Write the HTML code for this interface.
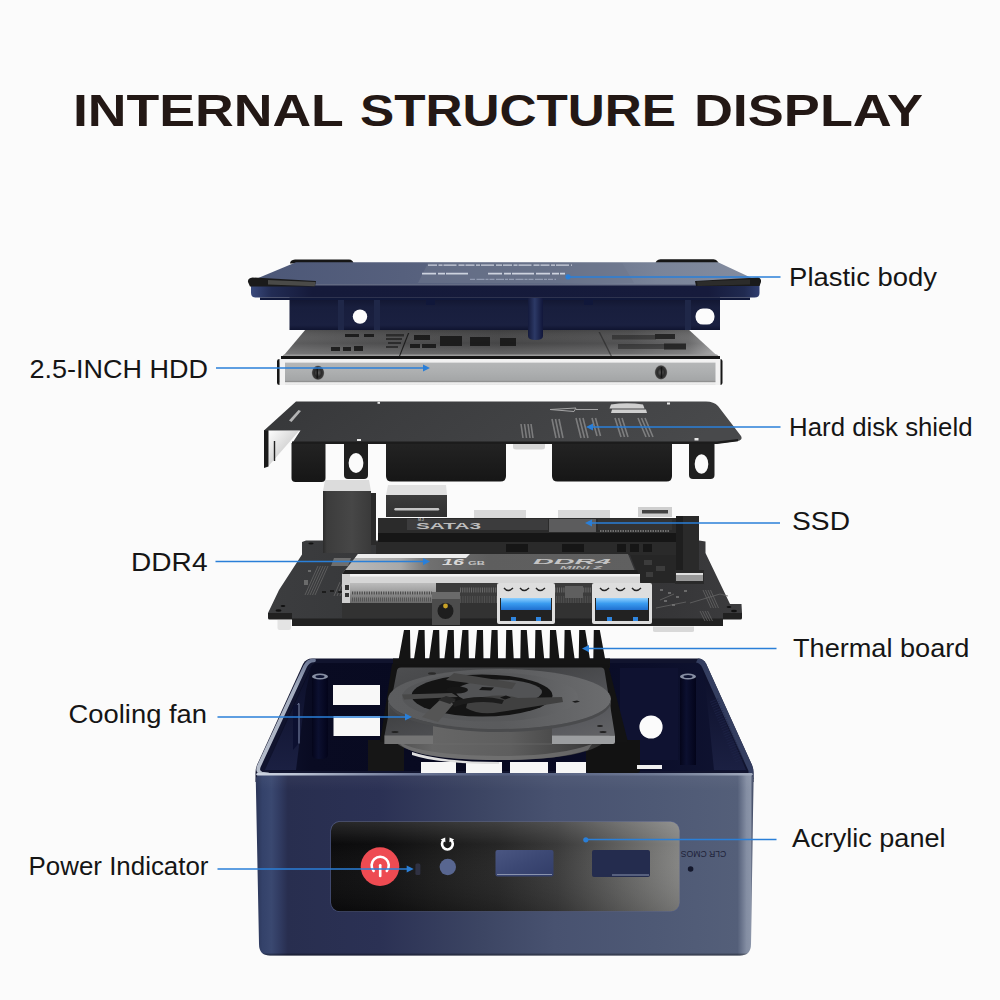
<!DOCTYPE html>
<html lang="en">
<head>
<meta charset="utf-8">
<title>Internal Structure Display</title>
<style>
html,body{margin:0;padding:0;background:#fbfbfb;}
body{width:1000px;height:1000px;overflow:hidden;font-family:"Liberation Sans",sans-serif;}
svg{display:block;position:absolute;left:0;top:0;}
.lbl{font-family:"Liberation Sans",sans-serif;font-size:26.6px;fill:#151515;}
.ttl{font-family:"Liberation Sans",sans-serif;font-weight:700;font-size:44.2px;fill:#231815;}
.ln{stroke:#2a7fd8;stroke-width:1.5;fill:none;}
.ar{fill:#2a7fd8;}
</style>
</head>
<body>
<svg width="1000" height="1000" viewBox="0 0 1000 1000">
<defs>
<linearGradient id="lidTop" x1="0" y1="0" x2="1" y2="0">
<stop offset="0" stop-color="#4c5777"/><stop offset="0.3" stop-color="#56607d"/><stop offset="0.6" stop-color="#626c85"/><stop offset="0.8" stop-color="#7a8499"/><stop offset="1" stop-color="#838c9f"/>
</linearGradient>
<linearGradient id="lidLip" x1="0" y1="0" x2="1" y2="0">
<stop offset="0" stop-color="#3a4a7c"/><stop offset="0.04" stop-color="#222c54"/><stop offset="0.12" stop-color="#151a3a"/><stop offset="0.9" stop-color="#161b3c"/><stop offset="0.97" stop-color="#202a50"/><stop offset="1" stop-color="#303e70"/>
</linearGradient>
<linearGradient id="lidBody" x1="0" y1="0" x2="0" y2="1">
<stop offset="0" stop-color="#11152f"/><stop offset="0.3" stop-color="#181e3d"/><stop offset="0.85" stop-color="#1a2040"/><stop offset="1" stop-color="#0f1430"/>
</linearGradient>
<linearGradient id="lidPost" x1="0" y1="0" x2="1" y2="0">
<stop offset="0" stop-color="#141a3c"/><stop offset="0.45" stop-color="#2c3966"/><stop offset="1" stop-color="#11163a"/>
</linearGradient>
<linearGradient id="hddTop" x1="0" y1="0" x2="1" y2="0">
<stop offset="0" stop-color="#5e5e5f"/><stop offset="0.2" stop-color="#505051"/><stop offset="0.5" stop-color="#454546"/><stop offset="0.8" stop-color="#525253"/><stop offset="0.93" stop-color="#6a6a6b"/><stop offset="1" stop-color="#a0a0a1"/>
</linearGradient>
<linearGradient id="hddTopV" x1="0" y1="0" x2="0" y2="1">
<stop offset="0" stop-color="#000" stop-opacity=".15"/><stop offset="0.5" stop-color="#fff" stop-opacity="0"/><stop offset="1" stop-color="#fff" stop-opacity=".22"/>
</linearGradient>
<linearGradient id="hddFront" x1="0" y1="0" x2="0" y2="1">
<stop offset="0" stop-color="#f4f4f4"/><stop offset="0.12" stop-color="#f0f0f0"/><stop offset="0.16" stop-color="#b4b6b7"/><stop offset="0.5" stop-color="#adafb0"/><stop offset="0.82" stop-color="#a4a6a7"/><stop offset="0.88" stop-color="#8a8a8a"/><stop offset="0.91" stop-color="#f0f0f0"/><stop offset="1" stop-color="#e6e6e6"/>
</linearGradient>
<radialGradient id="screw" cx="0.5" cy="0.5" r="0.5">
<stop offset="0" stop-color="#6a6a6a"/><stop offset="0.55" stop-color="#2a2a2a"/><stop offset="0.85" stop-color="#3a3a3a"/><stop offset="1" stop-color="#8a8a8a"/>
</radialGradient>
<linearGradient id="shTop" x1="0" y1="0" x2="1" y2="0.12">
<stop offset="0" stop-color="#363739"/><stop offset="0.3" stop-color="#3c3d3f"/><stop offset="0.6" stop-color="#414244"/><stop offset="1" stop-color="#48494b"/>
</linearGradient>
<linearGradient id="shTab" x1="0" y1="0" x2="0" y2="1">
<stop offset="0" stop-color="#232323"/><stop offset="1" stop-color="#161616"/>
</linearGradient>
<linearGradient id="shIn" x1="0" y1="0" x2="1" y2="1">
<stop offset="0" stop-color="#fdfdfd"/><stop offset="0.5" stop-color="#d8d8d8"/><stop offset="1" stop-color="#9a9a9a"/>
</linearGradient>
<linearGradient id="pcb" x1="0" y1="0" x2="1" y2="0">
<stop offset="0" stop-color="#3c3d3f"/><stop offset="0.18" stop-color="#38393b"/><stop offset="0.5" stop-color="#2e2e2f"/><stop offset="0.85" stop-color="#363638"/><stop offset="1" stop-color="#3c3c3e"/>
</linearGradient>
<linearGradient id="rj" x1="0" y1="0" x2="1" y2="0">
<stop offset="0" stop-color="#2c2c2c"/><stop offset="0.08" stop-color="#3c3c3c"/><stop offset="0.6" stop-color="#474747"/><stop offset="1" stop-color="#3a3a3a"/>
</linearGradient>
<linearGradient id="ddrFace" x1="0" y1="0" x2="0" y2="1">
<stop offset="0" stop-color="#bcbcbc"/><stop offset="0.35" stop-color="#a4a4a4"/><stop offset="0.6" stop-color="#868686"/><stop offset="1" stop-color="#6a6a6a"/>
</linearGradient>
<linearGradient id="usbBlue" x1="0" y1="0" x2="0" y2="1">
<stop offset="0" stop-color="#8fd0ff"/><stop offset="0.45" stop-color="#3a9cf0"/><stop offset="1" stop-color="#1f6fd0"/>
</linearGradient>
<linearGradient id="ddrTop" x1="0" y1="0" x2="1" y2="0">
<stop offset="0" stop-color="#bcbcbc"/><stop offset="0.2" stop-color="#a8a8a8"/><stop offset="0.3" stop-color="#707070"/><stop offset="0.5" stop-color="#5e5e5e"/><stop offset="1" stop-color="#606060"/>
</linearGradient>
<linearGradient id="hdmi" x1="0" y1="0" x2="0" y2="1">
<stop offset="0" stop-color="#3c3c3c"/><stop offset="1" stop-color="#303030"/>
</linearGradient>
<linearGradient id="caseFront" gradientUnits="userSpaceOnUse" x1="255.5" y1="0" x2="753.5" y2="0">
<stop offset="0" stop-color="#2a3456"/><stop offset="0.014" stop-color="#34426a"/><stop offset="0.032" stop-color="#3a4870"/><stop offset="0.05" stop-color="#303a60"/><stop offset="0.065" stop-color="#282e4f"/><stop offset="0.25" stop-color="#2b3154"/><stop offset="0.45" stop-color="#3c4563"/><stop offset="0.6" stop-color="#485270"/><stop offset="0.8" stop-color="#4e5975"/><stop offset="0.968" stop-color="#545f79"/><stop offset="0.986" stop-color="#848ea3"/><stop offset="0.994" stop-color="#8a94a8"/><stop offset="1" stop-color="#2a3350"/>
</linearGradient>
<linearGradient id="caseFrontV" x1="0" y1="0" x2="0" y2="1">
<stop offset="0" stop-color="#fff" stop-opacity=".05"/><stop offset="0.1" stop-color="#fff" stop-opacity="0"/><stop offset="0.985" stop-color="#000" stop-opacity="0"/><stop offset="1" stop-color="#000" stop-opacity=".45"/>
</linearGradient>
<linearGradient id="rimF" gradientUnits="userSpaceOnUse" x1="256" y1="0" x2="753" y2="0">
<stop offset="0" stop-color="#cdd4e0"/><stop offset="0.08" stop-color="#bcc4d4"/><stop offset="0.3" stop-color="#7f8aa8" stop-opacity=".8"/><stop offset="0.5" stop-color="#5a668a" stop-opacity=".5"/><stop offset="0.8" stop-color="#7a859f" stop-opacity=".7"/><stop offset="1" stop-color="#a3acbe"/>
</linearGradient>
<linearGradient id="caseIn" x1="0" y1="0" x2="1" y2="0">
<stop offset="0" stop-color="#10142f"/><stop offset="0.1" stop-color="#090b22"/><stop offset="0.5" stop-color="#070920"/><stop offset="0.8" stop-color="#0b0e2a"/><stop offset="1" stop-color="#101432"/>
</linearGradient>
<linearGradient id="acrylic" x1="0" y1="0" x2="1" y2="0">
<stop offset="0" stop-color="#0b0b0c"/><stop offset="0.15" stop-color="#0f0f10"/><stop offset="0.3" stop-color="#1a1a1a"/><stop offset="0.48" stop-color="#262626"/><stop offset="0.65" stop-color="#3a3a3a"/><stop offset="0.82" stop-color="#5e5e5d"/><stop offset="1" stop-color="#848482"/>
</linearGradient>
<linearGradient id="acrylicV" x1="0" y1="0" x2="0" y2="1">
<stop offset="0" stop-color="#fff" stop-opacity=".12"/><stop offset="0.25" stop-color="#fff" stop-opacity="0"/><stop offset="1" stop-color="#000" stop-opacity=".12"/>
</linearGradient>
<linearGradient id="fanSide" gradientUnits="userSpaceOnUse" x1="388" y1="0" x2="611" y2="0">
<stop offset="0" stop-color="#4c4c4c"/><stop offset="0.2" stop-color="#666"/><stop offset="0.55" stop-color="#5e5e5e"/><stop offset="0.85" stop-color="#404040"/><stop offset="1" stop-color="#2c2c2c"/>
</linearGradient>
<linearGradient id="fanFrame" x1="0" y1="0" x2="1" y2="1">
<stop offset="0" stop-color="#4e4f51"/><stop offset="0.35" stop-color="#424345"/><stop offset="0.7" stop-color="#55565a"/><stop offset="1" stop-color="#66676a"/>
</linearGradient>
<linearGradient id="postG" x1="0" y1="0" x2="1" y2="0">
<stop offset="0" stop-color="#04051a"/><stop offset="0.4" stop-color="#0c1030"/><stop offset="1" stop-color="#03041a"/>
</linearGradient>
<linearGradient id="rimL" gradientUnits="userSpaceOnUse" x1="0" y1="658" x2="0" y2="776">
<stop offset="0" stop-color="#6a7593"/><stop offset="0.25" stop-color="#a4adbf"/><stop offset="1" stop-color="#b9c0cd"/>
</linearGradient>
<linearGradient id="wallL" x1="0" y1="0" x2="0" y2="1">
<stop offset="0" stop-color="#0c0f2a"/><stop offset="1" stop-color="#1b2042"/>
</linearGradient>
<linearGradient id="fanRing" gradientUnits="userSpaceOnUse" x1="388" y1="0" x2="611" y2="0">
<stop offset="0" stop-color="#5c5d5f"/><stop offset="0.5" stop-color="#5a5b5d"/><stop offset="0.8" stop-color="#646567"/><stop offset="1" stop-color="#6c6d6f"/>
</linearGradient>
<linearGradient id="fanRing2" gradientUnits="userSpaceOnUse" x1="388" y1="0" x2="611" y2="0">
<stop offset="0" stop-color="#555658"/><stop offset="0.6" stop-color="#58595b"/><stop offset="1" stop-color="#727375"/>
</linearGradient>
<linearGradient id="usbCut" x1="0" y1="0" x2="1" y2="1">
<stop offset="0" stop-color="#4a5682"/><stop offset="0.5" stop-color="#3c4874"/><stop offset="1" stop-color="#323d68"/>
</linearGradient>

</defs>
<rect width="1000" height="1000" fill="#fbfbfb"/>

<!-- title -->
<text class="ttl" y="125.9"><tspan x="72.9" textLength="270" lengthAdjust="spacingAndGlyphs">INTERNAL</tspan> <tspan x="360" textLength="316" lengthAdjust="spacingAndGlyphs">STRUCTURE</tspan> <tspan x="693.9" textLength="229" lengthAdjust="spacingAndGlyphs">DISPLAY</tspan></text>

<!-- 2.5 inch HDD -->
<g id="hdd">
<path d="M306 329H688L719 357.500H282z" fill="url(#hddTop)"/>
<path d="M306 329H688L719 357.500H282z" fill="url(#hddTopV)"/>
<path d="M284 354.500H717l1.500 1.500H282.500z" fill="#9a9a9a"/>
<!-- label printing -->
<g fill="#141414" opacity=".85">
<path d="M345 334h14v3h-14zM364 334h10v3h-10zM331 347h9v4h-9zM343 347h8v4h-8zM354 346h9v5h-9z"/>
<path d="M386 334h18v2.500h-18zM386 338h16v2h-16zM388 342h13v2h-13zM386 346h12v2h-12z" opacity=".7"/>
<path d="M414 335h16v5h-16zM440 336h22v10h-22zM470 337h20v9h-20zM500 338h16v8h-16zM410 344h10v4h-10zM422 344h14v4h-14z"/>
<path d="M408 333l-9 23h1.200l9-23z"/>
</g>
<g fill="#1c1c1c" opacity=".85">
<path d="M612 335h44v4.500h-44zM618 344h48v5h-48z" opacity=".55"/>
<path d="M655 334h20v5h-20zM664 343.500h22v6h-22z"/>
<path d="M600 332l12 24h-1.500l-12-24z" opacity=".6"/>
</g>
<!-- dark top edge -->
<path d="M281 356h439v3H281z" fill="#151515"/>
<!-- front face -->
<path d="M279.500 359H720.500V385H279.500z" fill="url(#hddFront)"/>
<path d="M277 361q0-2 2.500-2v26q-2.500 0-2.500-2z" fill="#161616"/>
<path d="M720 359q2.500 0 2.500 2v22q0 2-2.500 2z" fill="#161616"/>
<path d="M280 359h5v26h-5zM715.500 359h5v26h-5z" fill="#f2f2f2"/>
<ellipse cx="318" cy="372.800" rx="6.300" ry="7.300" fill="url(#screw)"/>
<path d="M317.300 367v11.500" stroke="#151515" stroke-width="1.600"/>
<ellipse cx="661" cy="372.400" rx="6.300" ry="7.300" fill="url(#screw)"/>
<path d="M661.500 367v11" stroke="#151515" stroke-width="1.600"/>
</g>

<!-- plastic body (lid) -->
<g id="lid">
<!-- back rubber feet -->
<path d="M290 263.5q0-3.5 5-4h54q4 .3 4.500 4z" fill="#161616"/>
<path d="M655.500 263.800q0-4 5-4.500h53q4.500 .5 5 4.500z" fill="#161616"/>
<!-- top surface -->
<path d="M296 262.300H718L757 280.500L756 285H252L251 281z" fill="url(#lidTop)"/>
<!-- label area -->
<path d="M428 263H622L634 283H418z" fill="#6d768c" opacity=".55"/>
<g fill="none" stroke="#dfe4ee" stroke-width="1.300" opacity=".85">
<path d="M428 265.200H572" stroke-dasharray="9 1.500 4 1 13 2 6 1"/>
<path d="M422 273.600H470M488 273.600H565" stroke-width="1.800" stroke-dasharray="14 2 7 1 22 2"/>
<path d="M470 279.300H556" stroke-width="1" stroke="#aab3c8" stroke-dasharray="5 1.500 8 1 3 1"/>
</g>
<!-- lip -->
<path d="M251 284.500H759.500V293q0 4.500-5 4.500H256q-5 0-5-4.500z" fill="url(#lidLip)"/>
<path d="M253 284.300H758V285.600H253z" fill="#8d95a8" opacity=".7"/>
<!-- lower body -->
<path d="M289.500 297.500H720V330H289.500z" fill="url(#lidBody)"/>
<path d="M260 297.500H750V300H260z" fill="#10183a"/>
<!-- ribs -->
<path d="M338 300h6v30h-6zM374 300h6v30h-6zM685 300h6v30h-6z" fill="#1f2748"/>
<path d="M426 298h9v7h-9zM584 298h9v7h-9z" fill="#10173a"/>
<!-- post -->
<path d="M528 298h15v38q0 4-7.500 4t-7.500-4z" fill="url(#lidPost)"/>
<!-- holes -->
<circle cx="360" cy="316.600" r="7.200" fill="#fcfcfc"/>
<rect x="695.500" y="308.600" width="19" height="16" rx="7.500" fill="#fcfcfc"/>
<!-- front rubber feet -->
<path d="M248 282q-.5-4 4.500-4.500L316 281l-1 5.500H250z" fill="#1a1a1a"/>
<path d="M268 280L315.500 282l-.8 4.200L268 284.500z" fill="#4a4a48"/>
<path d="M695 281l63-3.500q3.500 .5 3 4.500l-1.500 4H696z" fill="#1a1a1a"/>
<path d="M697 281.600L750 279.500v5L697.500 286z" fill="#2c2c2b"/>
</g>

<!-- hard disk shield -->
<g id="shield">
<!-- front tabs -->
<path d="M291.500 443H325.500V478q0 4-4 4H295.500q-4 0-4-4z" fill="url(#shTab)"/>
<path d="M386 443H506V476q0 5.500-5.500 5.500H391.500q-5.500 0-5.500-5.500z" fill="url(#shTab)"/>
<path d="M552 443H672V476q0 5.500-5.500 5.500H557.500q-5.500 0-5.500-5.500z" fill="url(#shTab)"/>
<path d="M344 443H368V475q0 4-4 4H348q-4 0-4-4z" fill="#1f1f1f"/>
<ellipse cx="356" cy="463" rx="7.400" ry="10" fill="#fbfbfb"/>
<path d="M689 441H714.500V475q0 4-4 4H693q-4 0-4-4z" fill="#1f1f1f"/>
<ellipse cx="701.500" cy="464" rx="6.800" ry="9.800" fill="#fbfbfb"/>
<!-- silver clip -->
<path d="M513 443h32v4q0 2.500-3 2.500h-26q-3 0-3-2.500z" fill="#d5d5d5"/>
<!-- left flap -->
<path d="M268 431H299L268.500 466z" fill="url(#shIn)"/>
<path d="M274.500 441v20" stroke="#222" stroke-width="1.400"/>
<path d="M264 430h4.500v36.500L264 468z" fill="#1a1a1a"/>
<!-- top surface -->
<path d="M296 401.500H706q8 0 12 4.500L741 436q2 4-3 5l-21 2.500H292L300.500 430.500H264z" fill="url(#shTop)"/>
<path d="M292 441.500H717l21-2.500v2.200l-21 2.800H292z" fill="#1c1c1c"/>
<!-- printing -->
<g fill="#e8e8e8">
<path d="M289 420.500l9.500-10.500 2.500 1-9.500 11z" opacity=".7"/>
<rect x="377.500" y="401.800" width="2.500" height="2" />
<rect x="357" y="439" width="4" height="2"/>
<rect x="667" y="402.500" width="3" height="2"/>
<rect x="694.500" y="438" width="4" height="2.500"/>
<path d="M611 404.500q16-2.500 32 0l1.500 4h-35zM612 409.500h34l1 3.500h-36z" opacity=".85"/>
</g>
<g fill="none" stroke="#bdbdbd" stroke-width="1" opacity=".8">
<path d="M550 409.500L576 408l-2 3.500zM576 409.500h22"/>
<path d="M521 424l2 14M524.500 424l2 14M528 424l2 14M531 424l2 14" stroke-width="1.600" opacity=".6"/>
<path d="M552 419l4 19M555.500 419l4 19M559 419l4 19" stroke-width="1.600" opacity=".6"/>
<path d="M576 418l5 20M579.500 418l5 20M583 418l5 20" stroke-width="1.600" opacity=".6"/>
<path d="M592 418l5 18M595.500 418l5 18" stroke-width="1.600" opacity=".6"/>
<path d="M615 418l6 19M618.500 418l6 19M622 418l6 19" stroke-width="1.600" opacity=".6"/>
<path d="M638 418l8 19M641.500 418l8 19M645 418l8 19" stroke-width="1.600" opacity=".6"/>
</g>
</g>

<!-- motherboard -->
<g id="mb">
<!-- white standoffs -->
<path d="M277.500 620h13.500v8q0 2-2 2h-9.500q-2 0-2-2z" fill="#e4e4e4"/>
<path d="M653 626.500h41v4q0 1.500-2 1.500h-37q-2 0-2-1.500z" fill="#d9d9d9"/>
<!-- pcb top -->
<path d="M306 540.500H699L705.500 541.500V553L730 604H741.500L742 613H723V619.500H292V613.500L268 613L279 590L302 554.500V542z" fill="url(#pcb)"/>
<!-- pcb front edge -->
<path d="M268 613H292V618.500H723V613H742V618q0 1.500-1.500 1.500H723V626H292V619.500H269.500q-1.500 0-1.500-1.500z" fill="#212121"/>
<ellipse cx="278.500" cy="610.500" rx="3" ry="1.200" fill="#111"/><ellipse cx="283" cy="606" rx="2.400" ry="1" fill="#111"/>
<ellipse cx="729" cy="607" rx="2.400" ry="1" fill="#111"/><ellipse cx="734" cy="611" rx="3" ry="1.200" fill="#111"/>
<ellipse cx="311" cy="543.500" rx="2.600" ry="1" fill="#111"/>
<path d="M334 558h17l-3 8h-17z" fill="#6e6e6e"/>
<!-- pcb traces -->
<g stroke="#686868" stroke-width=".9" fill="none" opacity=".85">
<path d="M318 566l-13 29M320.500 566l-13 29M323 566l-13 29M325.500 566l-13 29M328 566l-13 29"/>
<path d="M340 582l-6 14M343 582l-6 14M346 582l-6 14"/>
<path d="M690 603l30-9 8 2M660 600l14-6M656 608l30-6"/>
<path d="M703 590l8 18M705.500 590l8 18M708 590l8 18M710.500 590l8 18"/>
<path d="M700 611l5 10M702.500 611l5 10M705 611l5 10M707.500 611l5 10"/>
</g>
<g fill="#777" opacity=".8">
<path d="M308 570h3v2h-3zM304 580h4v5h-4zM660 589h3v2h-3zM668 592h3v2h-3zM676 596h3v2h-3zM684 590h3v2h-3zM664 600h3v2h-3zM672 604h3v2h-3z"/>
<path d="M322 591h4v2h-4zM330 590h4v2h-4zM338 591h4v2h-4z" fill="#151515"/>
</g>
<!-- rear connectors -->
<path d="M325 480H369L371 491H323z" fill="#dcdcdc"/>
<path d="M323 491H371V553H323z" fill="url(#rj)"/>
<path d="M371 493h5v52h-5z" fill="#2a2a2a"/>
<path d="M388 485H446L447 495H386z" fill="#e0e0e0"/>
<path d="M386 495H447V517H386z" fill="url(#hdmi)"/>
<path d="M395.500 509.300H438" stroke="#c4c4c4" stroke-width="2.400" stroke-linecap="round"/>
<path d="M474 510H526V518H474zM558 510H610V518H558z" fill="#d9d9d9"/>
<path d="M638 507H672V517H638z" fill="#cfcfcf"/>
<path d="M642 510H668V513.500H642z" fill="#444"/>
<!-- SSD -->
<path d="M378 518H676V533H378z" fill="#2b2b2b"/>
<path d="M407 519H548V530H407z" fill="#3c3c3d"/>
<path d="M549 519H596V532H549z" fill="#5c5c5d"/>
<text x="416" y="529" font-family="Liberation Sans, sans-serif" font-weight="700" font-size="9.500" fill="#bdbdbd" textLength="65" lengthAdjust="spacingAndGlyphs">SATA3</text>
<text x="418" y="520.800" font-family="Liberation Sans, sans-serif" font-weight="700" font-size="3.600" fill="#aaa">M.2</text>
<path d="M598 519H672V530H598z" fill="#333"/>
<path d="M378 533H676V542H378z" fill="#161616"/>
<path d="M600 531H670" stroke="#888" stroke-width="1.600" stroke-dasharray="1.500 1"/>
<!-- region under ssd -->
<path d="M376 542H676V555H376z" fill="#2a2a2a"/>
<path d="M630 555H676V583H641z" fill="#262626"/>
<path d="M644 560h8v5h-8zM656 566h9v5h-9zM646 572h7v5h-7z" fill="#3c3c3c"/>
<path d="M506 544h22v8h-22zM562 544h22v8h-22zM617 544h9v8h-9zM630 544h9v8h-9zM643 544h9v8h-9z" fill="#161616"/>
<!-- tall dark block right -->
<path d="M676 516H699V570H676z" fill="#2a2a2a"/>
<path d="M676 516H683V570H676z" fill="#1e1e1e"/>
<path d="M675 570H704V584H675z" fill="#2a2a2a"/>
<path d="M676 573H703V581H676z" fill="#9a9a9a"/>
<path d="M676 573H703V575H676z" fill="#e0e0e0"/>
<!-- DDR slot & stick -->
<path d="M342 574L358 554H628L636 574z" fill="url(#ddrTop)"/>
<path d="M358 554H470L466 558H355z" fill="#ededed"/>
<text x="533" y="564.300" font-family="Liberation Sans, sans-serif" font-weight="700" font-style="italic" font-size="8" fill="#c4c4c4" textLength="78" lengthAdjust="spacingAndGlyphs">DDR4</text>
<text x="560" y="568.600" font-family="Liberation Sans, sans-serif" font-weight="700" font-style="italic" font-size="4.200" fill="#b8b8b8" textLength="42" lengthAdjust="spacingAndGlyphs">MINI Z</text>
<text x="442" y="565" font-family="Liberation Sans, sans-serif" font-weight="700" font-style="italic" font-size="9.500" fill="#d8d8d8" textLength="22" lengthAdjust="spacingAndGlyphs">16</text>
<text x="468" y="564.500" font-family="Liberation Sans, sans-serif" font-weight="700" font-size="4.500" fill="#c4c4c4" textLength="17" lengthAdjust="spacingAndGlyphs">GB</text>
<path d="M345 570H637L638.500 574H342z" fill="#1e1e1e"/>
<path d="M342 574H640V583H342z" fill="#d6d6d6"/>
<path d="M342 574H640V576.500H342z" fill="#f0f0f0"/>
<path d="M342 583H436V603H342z" fill="url(#ddrFace)"/>
<path d="M436 583H640V603H436z" fill="#3c3c3c"/>
<path d="M352 593H432" stroke="#4a4a4a" stroke-width="3" stroke-dasharray="1.200 1.200"/>
<path d="M352 599.500H432" stroke="#555" stroke-width="4" stroke-dasharray="1 1"/>
<path d="M460 590H640" stroke="#6a6a6a" stroke-width="5" stroke-dasharray="1 1.200"/>
<path d="M460 600H640" stroke="#505050" stroke-width="8" stroke-dasharray="1 1.400"/>
<path d="M342 574h8v30h-8z" fill="#cfcfcf"/>
<path d="M345 585h4v5h-4zM345 593h4v4h-4z" fill="#333"/>
<!-- lower dark band -->
<path d="M342 603H652V618H342z" fill="#323232"/>
<!-- DC jack -->
<path d="M432 592H460V625H432z" fill="#4c4c4c"/>
<path d="M432 592H460V599H432z" fill="#6a6a6a"/>
<circle cx="445.500" cy="611" r="8" fill="#1e1e1e"/>
<circle cx="445.500" cy="606" r="2.400" fill="#c9a227"/>
<!-- USB ports -->
<g id="usb1">
<path d="M497 585q0-2 2-2h54q2 0 2 2v37q0 2-2 2h-54q-2 0-2-2z" fill="#dedede"/>
<path d="M500 598H552V621H500z" fill="#222"/>
<path d="M501 598H551V610H501z" fill="url(#usbBlue)"/>
<path d="M504 588q4 5 9 0M520 588q4 5 9 0M536 588q4 5 9 0" stroke="#222" stroke-width="1.400" fill="none"/>
<path d="M511 617h5v4h-5zM536 617h5v4h-5z" fill="#2f86e0"/>
</g>
<g id="usb2">
<path d="M592 585q0-2 2-2h56q2 0 2 2v37q0 2-2 2h-56q-2 0-2-2z" fill="#dedede"/>
<path d="M595 598H649V621H595z" fill="#222"/>
<path d="M596 598H648V610H596z" fill="url(#usbBlue)"/>
<path d="M600 588q4 5 9 0M616 588q4 5 9 0M632 588q4 5 9 0" stroke="#222" stroke-width="1.400" fill="none"/>
<path d="M607 617h5v4h-5zM633 617h5v4h-5z" fill="#2f86e0"/>
</g>
<path d="M565 586h18v12h-18z" fill="#5f5f5f"/>
</g>

<!-- bottom case -->
<g id="case">
<!-- outer shell top outline (rim) -->
<path d="M312 658.500H698q5 0 8 5L752 765q1.500 3.500 1.500 8V782H255.500V773q0-4.500 1.500-8L303 664q3-5.500 9-5.500z" fill="#11142e"/>
<path d="M698 658.500q5 0 8 5L752 765q1.500 3.500 1.500 8v6h-5v-8L702 667q-2-4-6-4.500z" fill="#343e60"/>
<path d="M314 660.300q-6 0-8.800 6L259 766q-2.400 5.500 2.500 7.600L268 774.300" fill="none" stroke="url(#rimL)" stroke-width="3.800" stroke-linecap="round" stroke-linejoin="round"/>
<path d="M318 667q-3.500 0-5 3.500L267.500 768" fill="none" stroke="#48537a" stroke-width="1.400" opacity=".75"/>
<!-- interior -->
<path d="M316 663H696q3 0 5 3.500L746.500 771H263L311 666.500q2-3.500 5-3.500z" fill="url(#caseIn)"/>
<!-- left inner wall -->
<path d="M311 668L265 770H296L306 690z" fill="url(#wallL)"/>
<!-- right inner wall -->
<path d="M702 668L746 770H714L706 690z" fill="url(#wallL)"/>
<path d="M714 700L740 762" stroke="#20264a" stroke-width="9" stroke-dasharray="1 1.500" opacity=".6"/>
<!-- back wall cutouts -->
<path d="M333 685H380V705H333zM333.500 716H380V736H333.500z" fill="#f8f8f8"/>
<path d="M620 668H678V760H620z" fill="#0f1332" opacity=".9"/>
<circle cx="651" cy="727" r="11.600" fill="#fbfbfb"/>
<!-- posts -->
<path d="M312 677h16v78q0 4-8 4t-8-4z" fill="url(#postG)"/>
<ellipse cx="320" cy="676.500" rx="8" ry="3" fill="#8890a4"/><ellipse cx="320" cy="676.500" rx="4.500" ry="1.500" fill="#0d1230"/>
<path d="M680 677h16v88h-16z" fill="url(#postG)"/>
<ellipse cx="688" cy="676.500" rx="8" ry="3" fill="#8890a4"/><ellipse cx="688" cy="676.500" rx="4.500" ry="1.500" fill="#0d1230"/>
<path d="M293 706l5-2v40l-5 6z" fill="#0c1030"/>
<path d="M297.500 704.500l1.500-1v40" stroke="#7d88a8" stroke-width="1" fill="none"/>
</g>

<!-- thermal board / heatsink -->
<g id="heatsink" fill="#141414">
<path d="M393 658.500H610V668H393z"/>
<path d="M398.5 660L404.0 630H410.0L410.5 660zM413.8 660L418.6 630H424.6L425.1 660zM429.0 660L433.2 630H439.2L439.7 660zM444.2 660L447.8 630H453.8L454.3 660zM459.5 660L462.4 630H468.4L468.9 660zM474.8 660L477.0 630H483.0L483.5 660zM490.0 660L491.6 630H497.6L498.1 660zM505.7 660L506.2 630H512.2L513.8 660zM520.3 660L520.8 630H526.8L529.0 660zM534.9 660L535.4 630H541.4L544.3 660zM549.5 660L550.0 630H556.0L559.5 660zM564.1 660L564.6 630H570.6L574.8 660zM578.7 660L579.2 630H585.2L590.1 660zM593.3 660L593.8 630H599.8L605.3 660z"/>
</g>

<!-- cooling fan -->
<g id="fan">
<!-- black feet / shadows -->
<path d="M586 740H640V770q0 3-3 3H589q-3 0-3-3z" fill="#121212"/>
<path d="M368 740H404V771H368z" fill="#161616"/>
<path d="M392 664H608L628 742H380z" fill="#131313"/>
<!-- white vent slots seen below fan -->
<path d="M421 762H456V774H421zM466 762H502V774H466zM510 762H548V774H510zM556 762H586V774H556z" fill="#f6f6f6"/>
<path d="M637 765H662V769H637z" fill="#eee"/>
<!-- fan cylinder body -->
<path d="M388 702V728q0 32 112 32t111-32V702z" fill="url(#fanSide)"/>
<path d="M398 741q20 14 102 15 60 0 92-12l-4 6q-30 10-88 10-84 0-100-16z" fill="#767676" opacity=".7"/>
<path d="M412 752q30 10 87 10v2q-60 0-87-9z" fill="#dedede"/>
<!-- frame plate -->
<path d="M401 667.500H601q3 0 3.500 3L615 735.600l-63 0V736H433V744H384.500V735.600L397 670.500q.5-3 4-3z" fill="url(#fanFrame)"/>
<path d="M384.500 735.600H433V744H384.500z" fill="#747474"/>
<path d="M552 735.600H615V742q0 2-2 2H552z" fill="#9c9ea0"/>
<path d="M433 715H552V745H433z" fill="url(#fanSide)"/>
<path d="M433 744H552" stroke="#6e6e6e" stroke-width="1" opacity=".6"/>
<!-- ring top -->
<ellipse cx="499.500" cy="699" rx="111.500" ry="30" fill="url(#fanRing)"/>
<path d="M388 699a111.500 30 0 0 0 223 0v3a111.500 30 0 0 1-223 0z" fill="#4a4b4d"/>
<ellipse cx="490" cy="697" rx="88" ry="24.500" fill="url(#fanRing2)"/>
<!-- opening -->
<ellipse cx="482" cy="695.500" rx="70.500" ry="21" fill="#141414"/>
<!-- hub and struts -->
<ellipse cx="499" cy="692" rx="43" ry="12.500" fill="#525355"/>
<path d="M402 694.500L452 693l6 4-54 2.500z" fill="#484848"/>
<path d="M422 717l20-19 14 3-18 21z" fill="#555"/>
<path d="M438 700l8-4 10 3-6 5z" fill="#2a2a2a"/>
<path d="M454 673l62 10-4 6-66-9z" fill="#474747"/>
<path d="M468 700q30-8 50-2l44-1 1 5-63 10q-20 4-34-4z" fill="#404040"/>
<path d="M452 702q26-9 52-2l-2 4q-24-5-48 3z" fill="#1c1c1c"/>
<ellipse cx="457" cy="690" rx="11" ry="3.400" fill="#161616"/>
<path d="M482 687l12 .5-3 3-12-.5z" fill="#161616"/>
<path d="M500 697.500l6-2 5 2-6 2z" fill="#161616"/>
<path d="M572 701.500l5-1 3 1.200-5 1z" fill="#1a1a1a"/><ellipse cx="432" cy="673.500" rx="4" ry="1.200" fill="#2a2a2a"/>
<ellipse cx="600" cy="726" rx="3" ry="1" fill="#222"/><ellipse cx="603" cy="732" rx="3.500" ry="1" fill="#222"/><ellipse cx="395" cy="732" rx="3.500" ry="1" fill="#222"/>
</g>

<!-- case front face -->
<g id="front">
<path d="M255.800 781q0-8 7-8H746.500q7 0 7 8L751 944q0 11.500-11 11.500H270q-11 0-11-11.500z" fill="url(#caseFront)"/>
<path d="M255.800 781q0-8 7-8H746.500q7 0 7 8L751 944q0 11.500-11 11.500H270q-11 0-11-11.500z" fill="url(#caseFrontV)"/>
<path d="M257.500 774.300H751.500" stroke="url(#rimF)" stroke-width="2.400" stroke-linecap="round"/>
<!-- acrylic panel -->
<rect x="330.300" y="821.100" width="349.800" height="90.900" rx="9.500" fill="#59638a" opacity=".7"/>
<rect x="331" y="821.800" width="348.500" height="89.500" rx="9" fill="url(#acrylic)"/>
<rect x="331" y="821.600" width="348.500" height="89.700" rx="9" fill="url(#acrylicV)"/>
<!-- usb cutouts -->
<rect x="495.500" y="850" width="58" height="26.500" rx="2" fill="url(#usbCut)"/>
<rect x="592" y="850" width="58" height="27" rx="2" fill="#242c4e"/>
<path d="M497 874.500h55M612 875h37" stroke="#8a93ad" stroke-width="1.200"/>
<!-- power button -->
<circle cx="380" cy="866.600" r="19.300" fill="#ee4b52"/>
<path d="M373.600 870.900a8.600 8.600 0 1 1 13.200 0" fill="none" stroke="#fff" stroke-width="2.600" stroke-linecap="round"/>
<path d="M380.200 865.200v10.800" stroke="#fff" stroke-width="2.600" stroke-linecap="round"/>
<!-- indicator -->
<rect x="415.400" y="863.600" width="5" height="11.400" rx="1.500" fill="#2f3142"/>
<!-- reset -->
<circle cx="447.800" cy="867" r="8.200" fill="#586690"/>
<path d="M441.500 871.500q1 4 3.600 1.500 2 3 4.600 0 2.600 2 3.600-1.500z" fill="#586690"/>
<path d="M443.800 840a5.400 5.400 0 1 0 7.200 0" fill="none" stroke="#fff" stroke-width="2.600"/>
<path d="M440.600 839.600l4.600-2 .2 4.600zM454.200 839.600l-4.600-2-.2 4.600z" fill="#fff"/>
<!-- CLR CMOS (upside down) -->
<text transform="translate(726.300 851) rotate(180)" font-family="Liberation Sans, sans-serif" font-size="9.600" fill="#1e2238" textLength="45.500" lengthAdjust="spacingAndGlyphs">CLR CMOS</text>
<circle cx="690.600" cy="869" r="2.800" fill="#14182c"/>
</g>

<!-- labels -->
<g class="lbl">
<text x="29.6" y="377.5" textLength="178.4" lengthAdjust="spacingAndGlyphs">2.5-INCH HDD</text>
<text x="131.1" y="571" textLength="76.4" lengthAdjust="spacingAndGlyphs">DDR4</text>
<text x="68.6" y="723" textLength="138.4" lengthAdjust="spacingAndGlyphs">Cooling fan</text>
<text x="28.6" y="874.6" textLength="179.9" lengthAdjust="spacingAndGlyphs">Power Indicator</text>
<text x="789.1" y="285.5" textLength="147.9" lengthAdjust="spacingAndGlyphs">Plastic body</text>
<text x="789.1" y="436.4" textLength="183.4" lengthAdjust="spacingAndGlyphs">Hard disk shield</text>
<text x="792.1" y="530.4" textLength="57.9" lengthAdjust="spacingAndGlyphs">SSD</text>
<text x="793.0" y="657" textLength="176.4" lengthAdjust="spacingAndGlyphs">Thermal board</text>
<text x="792.1" y="847" textLength="153.4" lengthAdjust="spacingAndGlyphs">Acrylic panel</text>
</g>

<!-- callout lines -->
<g class="ln">
<path d="M216 368H424"/>
<path d="M215.5 561.6H424"/>
<path d="M217.5 717H406"/>
<path d="M217.5 869H408"/>
<path d="M780.5 277H568"/>
<path d="M780.5 427H592"/>
<path d="M780 523H591"/>
<path d="M776.5 648.6H588"/>
<path d="M776.5 839.6H586"/>
</g>
<g class="ar">
<path d="M430 368l-7-3.6v7.2z"/>
<path d="M430 561.6l-7-3.6v7.2z"/>
<path d="M412 717l-7-3.6v7.2z"/>
<path d="M413.7 869l-7-3.6v7.2z"/>
<circle cx="568" cy="276.8" r="2.6"/>
<path d="M586 427l7-3.6v7.2z"/>
<path d="M585 523l7-3.6v7.2z"/>
<path d="M582 648.6l7-3.6v7.2z"/>
<circle cx="585.8" cy="839.8" r="2.6"/>
</g>
</svg>
</body>
</html>
